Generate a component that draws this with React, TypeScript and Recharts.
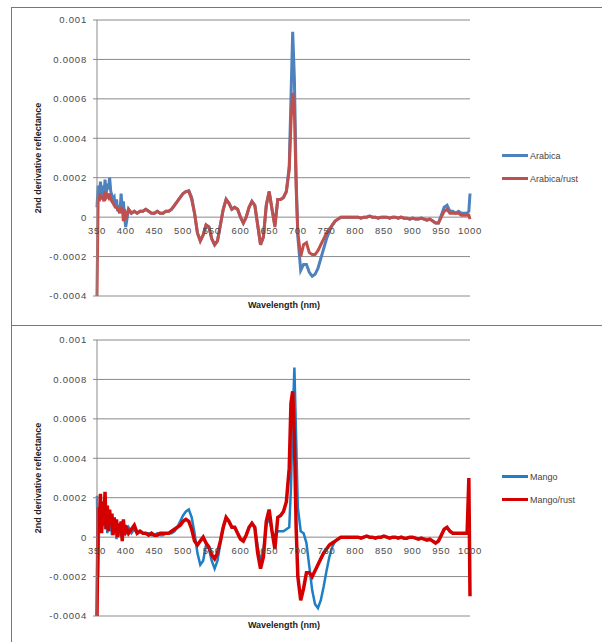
import { LineChart, Line, XAxis, YAxis, CartesianGrid } from 'recharts';

// wavelength grid (nm), shared by both panels
const wavelengths = [
  350, 352, 354, 356, 358, 360, 362, 364, 366, 368, 370, 372, 374, 376, 378, 380, 382, 384, 386, 388, 390, 392, 394, 396, 398, 400,
  405, 410, 415, 420, 425, 430, 435, 440, 445, 450, 455, 460, 465, 470, 475, 480, 485,
  490, 495, 500, 505, 510, 515, 520, 525, 530, 535, 540, 545, 550, 555, 560, 565, 570, 575, 580, 585,
  590, 595, 600, 605, 610, 615, 620, 625, 630, 635, 640, 645, 650, 655, 660, 665, 670, 675, 680, 685,
  688, 691, 694, 697,
  700, 705, 710, 715, 720, 725, 730, 735, 740, 745, 750, 755, 760, 765, 770, 775, 780, 785, 790, 795,
  800, 805, 810, 815, 820, 825, 830, 835, 840, 845, 850, 855, 860, 865, 870, 875, 880, 885, 890, 895,
  900, 905, 910, 915, 920, 925, 930, 935, 940, 945, 950, 955, 960, 965, 970, 975, 980, 985, 990, 995,
  998, 1000,
];

// 2nd derivative reflectance, in units of 1e-4
const arabica = [
  0.5, 1.6, 1.0, 1.8, 1.2, 1.6, 1.0, 1.9, 1.2, 1.7, 1.4, 2.0, 1.3, 1.1, 0.9, 1.0, 0.5, 0.9, 0.3, 0.6, 0.2, 1.2, 0.4, 0.8, 0.0, -0.5,
  0.4, 0.2, 0.3, 0.2, 0.3, 0.3, 0.4, 0.3, 0.2, 0.2, 0.3, 0.2, 0.2, 0.3, 0.3, 0.4, 0.6,
  0.8, 1.0, 1.2, 1.3, 1.35, 1.0, 0.2, -0.8, -1.2, -0.9, -0.4, -0.5, -1.1, -1.4, -1.2, -0.4, 0.4, 0.9, 0.7, 0.4,
  0.5, 0.4, 0.0, -0.3, 0.0, 0.5, 0.8, 0.6, -0.4, -1.4, -1.0, 0.6, 1.3, 0.4, -0.4, 0.9, 0.9, 1.0, 1.3, 2.6,
  6.0, 9.4, 7.0, 2.0,
  -1.0, -2.7, -2.4, -2.4, -2.8, -3.0, -2.9, -2.6, -2.1, -1.6, -1.1, -0.7, -0.4, -0.2, -0.1, 0.0, 0.0, 0.0, 0.0, 0.0,
  0.0, 0.0, -0.05, 0.0, 0.0, 0.05, 0.0, 0.0, -0.05, 0.0, 0.0, 0.0, -0.05, 0.0, 0.0, -0.05, 0.0, -0.05, -0.05, -0.1,
  -0.05, -0.1, -0.1, -0.05, -0.1, -0.15, -0.1, -0.2, -0.3, -0.3, 0.1, 0.5, 0.6, 0.3, 0.3, 0.2, 0.3, 0.2, 0.2, 0.2,
  0.3, 1.2,
];

const arabicaRust = [
  -4.0, 1.0, 0.8, 1.2, 0.9, 1.1, 0.8, 1.3, 1.0, 1.1, 1.0, 1.2, 0.9, 0.8, 0.7, 0.6, 0.5, 0.5, 0.4, 0.3, 0.4, 0.2, 0.5, -0.2, 0.4, -0.1,
  0.4, 0.2, 0.3, 0.2, 0.3, 0.3, 0.4, 0.3, 0.2, 0.2, 0.3, 0.2, 0.2, 0.3, 0.3, 0.4, 0.6,
  0.8, 1.0, 1.2, 1.3, 1.3, 0.9, 0.2, -0.8, -1.2, -0.9, -0.4, -0.5, -1.1, -1.4, -1.2, -0.4, 0.4, 0.9, 0.7, 0.4,
  0.5, 0.4, 0.0, -0.3, 0.0, 0.5, 0.8, 0.6, -0.4, -1.4, -1.0, 0.6, 1.3, 0.4, -0.5, 0.9, 0.9, 1.0, 1.3, 2.4,
  4.8, 6.3, 5.5, 1.5,
  -0.8, -2.0, -1.4, -1.3, -1.8, -1.9, -1.9, -1.7, -1.4, -1.1, -0.8, -0.6, -0.4, -0.2, -0.1, 0.0, 0.0, 0.0, 0.0, 0.0,
  0.0, 0.0, -0.05, 0.0, 0.0, 0.05, 0.0, 0.0, -0.05, 0.0, 0.0, 0.0, -0.05, 0.0, 0.0, -0.05, 0.0, -0.05, -0.05, -0.1,
  -0.05, -0.1, -0.1, -0.05, -0.1, -0.15, -0.1, -0.2, -0.3, -0.3, 0.0, 0.3, 0.4, 0.2, 0.2, 0.2, 0.2, 0.1, 0.1, 0.1,
  0.1, -0.1,
];

const mango = [
  2.1, -2.0, 1.2, 0.9, 1.7, 0.6, 1.3, 0.4, 1.1, 0.2, 1.0, 0.3, 0.8, 0.1, 0.7, 0.2, 0.6, -0.1, 0.5, 0.1, 0.4, 0.0, 0.5, 0.1, 0.4, 0.2,
  0.5, 0.2, 0.4, 0.2, 0.3, 0.2, 0.2, 0.2, 0.1, 0.1, 0.2, 0.1, 0.1, 0.2, 0.2, 0.2, 0.3,
  0.5, 0.8, 1.1, 1.3, 1.4, 1.0, 0.2, -0.8, -1.4, -1.2, -0.4, -0.6, -1.2, -1.6, -1.2, -0.3, 0.5, 1.0, 0.8, 0.5,
  0.5, 0.2, -0.1, -0.2, 0.1, 0.5, 0.7, 0.5, -0.5, -1.2, -0.7, 0.6, 1.0, 0.3, 0.0, 0.3, 0.3, 0.3, 0.4, 0.5,
  2.5, 6.0, 8.6, 5.0,
  1.5, 0.3, 0.2, -0.3, -1.5, -2.7, -3.4, -3.6, -3.2, -2.5, -1.7, -1.0, -0.5, -0.2, -0.1, 0.0, 0.0, 0.0, 0.0, 0.0,
  0.0, 0.0, -0.05, 0.0, 0.05, 0.0, 0.0, -0.05, 0.0, 0.0, 0.05, 0.0, -0.05, 0.0, 0.0, -0.05, 0.0, -0.05, -0.05, 0.0,
  0.0, -0.05, -0.1, -0.05, -0.1, -0.15, -0.1, -0.2, -0.3, -0.2, 0.1, 0.4, 0.5, 0.3, 0.2, 0.2, 0.2, 0.2, 0.2, 0.2,
  0.2, 0.2,
];

const mangoRust = [
  -4.0, 1.5, 0.5, 2.2, 0.2, 1.8, 0.6, 2.3, 0.4, 1.6, 0.3, 1.4, 0.6, 1.2, 0.1, 1.0, 0.2, 0.9, 0.0, 0.7, 0.3, 0.8, -0.2, 0.9, 0.1, 0.6,
  0.2, 0.4, 0.6, 0.2, 0.3, 0.2, 0.2, 0.1, 0.2, 0.1, 0.1, 0.2, 0.2, 0.2, 0.2, 0.3, 0.4,
  0.5, 0.6, 0.8, 0.9, 0.8, 0.4, -0.2, -0.4, -0.2, 0.0, -0.3, -0.5, -0.9, -1.1, -0.8, -0.2, 0.5, 1.0, 0.8, 0.5,
  0.5, 0.2, -0.1, -0.2, 0.1, 0.5, 0.7, 0.5, -0.8, -1.6, -1.0, 0.8, 1.4, 0.3, -0.6, 1.0, 1.1, 1.3, 1.8, 3.5,
  6.8, 7.4, 5.0, 0.5,
  -2.0, -3.2, -2.6, -1.8, -1.8, -2.0, -1.7, -1.4, -1.1, -0.8, -0.6, -0.4, -0.3, -0.2, -0.1, 0.0, 0.0, 0.0, 0.0, 0.0,
  0.0, 0.0, -0.05, 0.0, 0.05, 0.0, 0.0, -0.05, 0.0, 0.0, 0.05, 0.0, -0.05, 0.0, 0.0, -0.05, 0.0, -0.05, -0.05, 0.0,
  0.0, -0.05, -0.1, -0.05, -0.1, -0.15, -0.1, -0.2, -0.3, -0.2, 0.1, 0.4, 0.5, 0.3, 0.2, 0.2, 0.2, 0.2, 0.2, 0.2,
  3.0, -3.0,
];

const xTicks = [350, 400, 450, 500, 550, 600, 650, 700, 750, 800, 850, 900, 950, 1000];
const yTicks = [-4, -2, 0, 2, 4, 6, 8, 10];
const yTickLabels = ['-0.0004', '-0.0002', '0', '0.0002', '0.0004', '0.0006', '0.0008', '0.001'];

const FONT = '"Liberation Sans", Arial, sans-serif';
const CHART_W = 602;
const CHART_H = 320;
const M_TOP = 20;
const PLOT_H = 276;
const X_AXIS_H = 24;
const Y_MIN = -4;
const Y_MAX = 10;
// distance from the bottom of the plot up to the zero line
const ZERO_UP = (PLOT_H * (0 - Y_MIN)) / (Y_MAX - Y_MIN);

// Excel-style category labels sitting just under the zero line
function XTick(props: any) {
  const { x, payload, index } = props;
  const bottom = M_TOP + PLOT_H;
  return (
    <text
      key={index}
      x={x}
      y={bottom - ZERO_UP + 17}
      textAnchor="middle"
      fontSize={9.5}
      fontFamily={FONT}
      fill="#4a4a4a"
      letterSpacing={0.7}
    >
      {payload.value}
    </text>
  );
}

interface PanelProps {
  top: number;
  blue: number[];
  red: number[];
  blueName: string;
  redName: string;
  blueColor: string;
  redColor: string;
  blueWidth: number;
  redWidth: number;
  legendTop: number;
}

function Panel(p: PanelProps) {
  const data = wavelengths.map((wl, i) => ({ wl, blue: p.blue[i], red: p.red[i] }));
  return (
    <div style={{ position: 'absolute', left: 0, top: p.top, width: CHART_W, height: CHART_H }}>
      <LineChart
        width={CHART_W}
        height={CHART_H}
        data={data}
        margin={{ top: M_TOP, right: 132, bottom: CHART_H - M_TOP - PLOT_H - X_AXIS_H, left: 0 }}
      >
        <CartesianGrid vertical={false} stroke="#8a8a8a" strokeWidth={1} />
        <XAxis
          dataKey="wl"
          type="number"
          domain={[350, 1000]}
          ticks={xTicks}
          height={X_AXIS_H}
          axisLine={false}
          tickLine={false}
          tick={(t: any) => <XTick {...t} />}
          interval={0}
        />
        <YAxis
          type="number"
          domain={[Y_MIN, Y_MAX]}
          ticks={yTicks}
          width={97}
          tickSize={4}
          tickMargin={6}
          axisLine={{ stroke: '#8a8a8a' }}
          tickLine={{ stroke: '#8a8a8a' }}
          tick={{ fontSize: 9.5, fontFamily: FONT, fill: '#4a4a4a', letterSpacing: 0.8 }}
          tickFormatter={(v: number) => yTickLabels[yTicks.indexOf(v)]}
          interval={0}
        />
        <Line type="linear" dataKey="blue" stroke={p.blueColor} strokeWidth={p.blueWidth} dot={false} isAnimationActive={false} />
        <Line type="linear" dataKey="red" stroke={p.redColor} strokeWidth={p.redWidth} dot={false} isAnimationActive={false} />
      </LineChart>

      <div
        style={{
          position: 'absolute', left: 38, top: M_TOP + PLOT_H / 2,
          transform: 'translate(-50%, -50%) rotate(-90deg)', whiteSpace: 'nowrap',
          fontFamily: FONT, fontSize: 9, fontWeight: 'bold', color: '#222',
        }}
      >
        2nd derivative reflectance
      </div>
      <div
        style={{
          position: 'absolute', left: 284, top: M_TOP + PLOT_H + 9,
          transform: 'translate(-50%, -50%)', whiteSpace: 'nowrap',
          fontFamily: FONT, fontSize: 9, fontWeight: 'bold', color: '#222',
        }}
      >
        Wavelength (nm)
      </div>

      <div style={{ position: 'absolute', left: 502, top: p.legendTop, fontFamily: FONT, fontSize: 9, color: '#444' }}>
        {[
          { name: p.blueName, color: p.blueColor, w: p.blueWidth },
          { name: p.redName, color: p.redColor, w: p.redWidth },
        ].map((it) => (
          <div key={it.name} style={{ display: 'flex', alignItems: 'center', height: 23 }}>
            <div style={{ width: 26, height: it.w, background: it.color, marginRight: 2 }} />
            <span>{it.name}</span>
          </div>
        ))}
      </div>
    </div>
  );
}

export default function App() {
  return (
    <div style={{ position: 'absolute', left: 0, top: 0, width: 602, height: 642, background: '#fff', overflow: 'hidden' }}>
      <div style={{ position: 'absolute', left: 11, top: 7, width: 591, height: 640, borderLeft: '1px solid #777', borderTop: '1px solid #777' }} />
      <div style={{ position: 'absolute', left: 11, top: 325, width: 591, height: 1, background: '#777' }} />
      <Panel
        top={0}
        blue={arabica}
        red={arabicaRust}
        blueName="Arabica"
        redName="Arabica/rust"
        blueColor="#4f81bd"
        redColor="#c0504d"
        blueWidth={3}
        redWidth={3}
        legendTop={144}
      />
      <Panel
        top={320}
        blue={mango}
        red={mangoRust}
        blueName="Mango"
        redName="Mango/rust"
        blueColor="#1f7fc4"
        redColor="#d40000"
        blueWidth={2.5}
        redWidth={3.5}
        legendTop={145}
      />
    </div>
  );
}
